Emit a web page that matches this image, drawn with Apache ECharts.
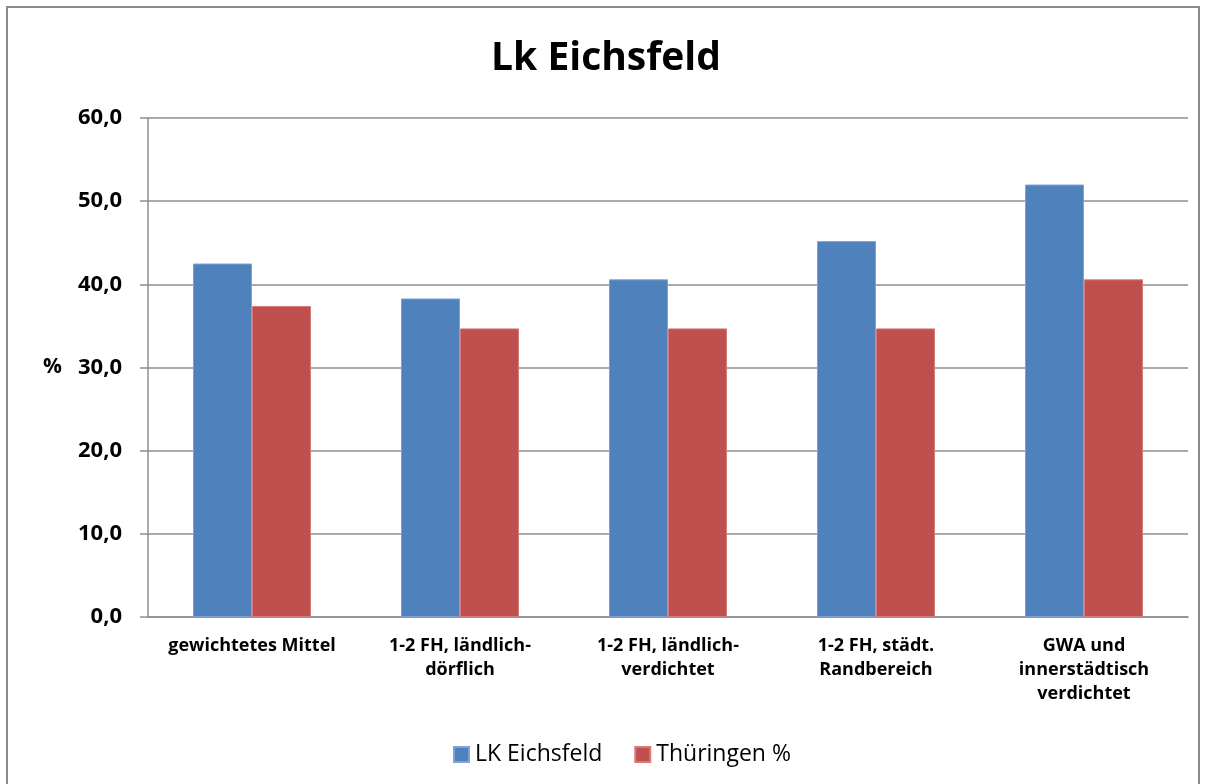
<!DOCTYPE html>
<html>
<head>
<meta charset="utf-8">
<script src="https://cdn.jsdelivr.net/npm/echarts@6/dist/echarts.min.js"></script>
<style>
  html, body { margin: 0; padding: 0; background: #fff; }
  #frame {
    position: absolute; left: 6px; top: 6px; width: 1194px; height: 800px;
    border: 2px solid #8c8c8c; box-sizing: border-box;
  }
  #chart { position: absolute; left: 0; top: 0; width: 1212px; height: 784px; }
</style>
</head>
<body>
<div id="frame"></div>
<div id="chart"></div>
<script>
// Kategorien (Gebietstypen)
const categories = [
  'gewichtetes Mittel',
  '1-2 FH, ländlich-\ndörflich',
  '1-2 FH, ländlich-\nverdichtet',
  '1-2 FH, städt.\nRandbereich',
  'GWA und\ninnerstädtisch\nverdichtet'
]

// Werte in %
const eichsfeldValues = [42.5, 38.3, 40.6, 45.2, 52.0]
const thueringenValues = [37.4, 34.7, 34.7, 34.7, 40.6]

// Achsenbeschriftung
const yTickLabels = ['0,0', '10,0', '20,0', '30,0', '40,0', '50,0', '60,0']

const seriesNames = ['LK Eichsfeld', 'Thüringen %']

const font = '"Open Sans", sans-serif'
const gridColor = '#8e8e8e'

const chart = echarts.init(document.getElementById('chart'))

chart.setOption({
  animation: false,
  title: {
    text: 'Lk Eichsfeld',
    left: 'center',
    top: 34,
    textStyle: { fontFamily: font, fontSize: 39, fontWeight: 'bold', color: '#000' }
  },
  legend: {
    data: seriesNames,
    left: 448,
    top: 738,
    itemWidth: 15,
    itemHeight: 15,
    itemGap: 32,
    icon: 'rect',
    textStyle: { fontFamily: font, fontSize: 23, color: '#000', padding: [0, 0, 0, 1] }
  },
  grid: {
    left: 148,
    right: 24,
    top: 118,
    bottom: 167
  },
  xAxis: {
    type: 'category',
    data: categories,
    axisLine: { lineStyle: { color: gridColor, width: 1.5 } },
    axisTick: { length: 7, lineStyle: { color: gridColor, width: 1.5 } },
    axisLabel: {
      margin: 17,
      interval: 0,
      fontFamily: font,
      fontSize: 18,
      fontWeight: 'bold',
      lineHeight: 24,
      color: '#000'
    }
  },
  yAxis: {
    type: 'value',
    min: 0,
    max: 60,
    interval: 10,
    name: '%',
    nameLocation: 'middle',
    nameRotate: 0,
    nameGap: 86,
    nameTextStyle: { fontFamily: font, fontSize: 21, fontWeight: 'bold', color: '#000' },
    axisLine: { show: true, lineStyle: { color: gridColor, width: 1.5 } },
    axisTick: { show: true, inside: false, length: 8, lineStyle: { color: gridColor, width: 1.5 } },
    axisLabel: {
      margin: 26,
      fontFamily: font,
      fontSize: 22,
      fontWeight: 'bold',
      color: '#000',
      formatter: v => yTickLabels[Math.round(v / 10)]
    },
    splitLine: { lineStyle: { color: gridColor, width: 1.5 } }
  },
  series: [
    {
      name: seriesNames[0],
      type: 'bar',
      data: eichsfeldValues,
      barWidth: 59,
      barGap: '0%',
      itemStyle: { color: '#4F81BD', borderColor: '#7fa3d2', borderWidth: 1 }
    },
    {
      name: seriesNames[1],
      type: 'bar',
      data: thueringenValues,
      barWidth: 59,
      itemStyle: { color: '#C0504D', borderColor: '#d47c79', borderWidth: 1 }
    }
  ]
})
</script>
</body>
</html>
